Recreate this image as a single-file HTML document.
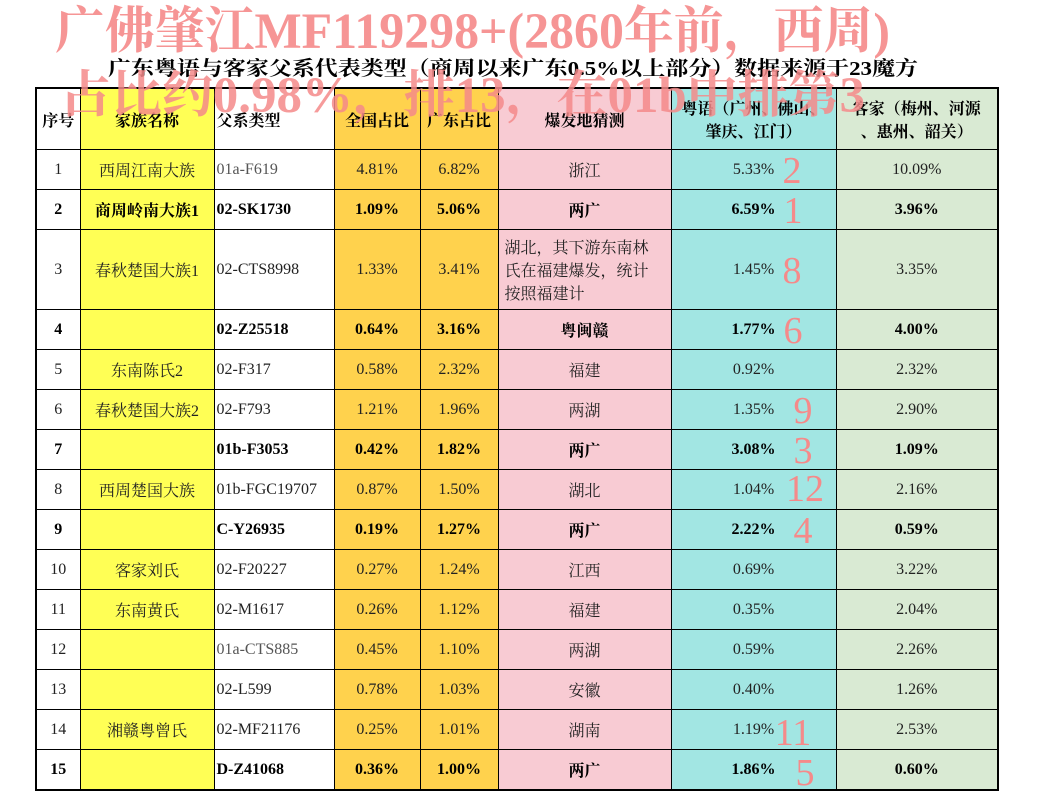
<!DOCTYPE html>
<html><head><meta charset="utf-8"><style>
body{margin:0;width:1041px;height:812px;background:#fff;position:relative;overflow:hidden;font-family:"Liberation Serif","Noto Serif CJK SC",serif}
table{position:absolute;left:35px;top:87px;border-collapse:collapse;table-layout:fixed;border:2px solid #000}
td{border:1px solid #000;font-size:16px;text-align:center;padding:0;height:39px;color:#222}
tr.h td{height:60px;font-size:16px;vertical-align:middle;font-weight:bold;color:#000}
.y{background:#ffff55}.o{background:#ffd24d}.p{background:#f8cbd3}.c{background:#a2e6e3}.g{background:#d9ead3}
td.l{text-align:left;padding-left:2px}
td.gy{color:#555}
tr.b td{font-weight:bold;color:#000}
.r{position:absolute;font-family:"Liberation Serif",serif;font-size:38px;color:#f58a8a;transform:translateX(-50%)}
svg{position:absolute;left:0;top:0}
</style></head><body>
<table>
<colgroup><col style="width:44px"><col style="width:134px"><col style="width:120px"><col style="width:86px"><col style="width:78px"><col style="width:173px"><col style="width:165px"><col style="width:162px"></colgroup>
<tr class="h"><td>序号</td><td class="y">家族名称</td><td class="l">父系类型</td><td class="o">全国占比</td><td class="o">广东占比</td><td class="p">爆发地猜测</td><td class="c">粤语（广州、佛山、<br>肇庆、江门）</td><td class="g">客家（梅州、河源<br>、惠州、韶关）</td></tr>
<tr><td>1</td><td class="y">西周江南大族</td><td class="l gy">01a-F619</td><td class="o">4.81%</td><td class="o">6.82%</td><td class="p">浙江</td><td class="c">5.33%</td><td class="g">10.09%</td></tr>
<tr class="b"><td>2</td><td class="y">商周岭南大族1</td><td class="l">02-SK1730</td><td class="o">1.09%</td><td class="o">5.06%</td><td class="p">两广</td><td class="c">6.59%</td><td class="g">3.96%</td></tr>
<tr><td style="height:79px">3</td><td class="y">春秋楚国大族1</td><td class="l">02-CTS8998</td><td class="o">1.33%</td><td class="o">3.41%</td><td class="p" style="text-align:left;padding-left:6px">湖北，其下游东南林<br>氏在福建爆发，统计<br>按照福建计</td><td class="c">1.45%</td><td class="g">3.35%</td></tr>
<tr class="b"><td>4</td><td class="y"></td><td class="l">02-Z25518</td><td class="o">0.64%</td><td class="o">3.16%</td><td class="p">粤闽赣</td><td class="c">1.77%</td><td class="g">4.00%</td></tr>
<tr><td>5</td><td class="y">东南陈氏2</td><td class="l">02-F317</td><td class="o">0.58%</td><td class="o">2.32%</td><td class="p">福建</td><td class="c">0.92%</td><td class="g">2.32%</td></tr>
<tr><td>6</td><td class="y">春秋楚国大族2</td><td class="l">02-F793</td><td class="o">1.21%</td><td class="o">1.96%</td><td class="p">两湖</td><td class="c">1.35%</td><td class="g">2.90%</td></tr>
<tr class="b"><td>7</td><td class="y"></td><td class="l">01b-F3053</td><td class="o">0.42%</td><td class="o">1.82%</td><td class="p">两广</td><td class="c">3.08%</td><td class="g">1.09%</td></tr>
<tr><td>8</td><td class="y">西周楚国大族</td><td class="l">01b-FGC19707</td><td class="o">0.87%</td><td class="o">1.50%</td><td class="p">湖北</td><td class="c">1.04%</td><td class="g">2.16%</td></tr>
<tr class="b"><td>9</td><td class="y"></td><td class="l">C-Y26935</td><td class="o">0.19%</td><td class="o">1.27%</td><td class="p">两广</td><td class="c">2.22%</td><td class="g">0.59%</td></tr>
<tr><td>10</td><td class="y">客家刘氏</td><td class="l">02-F20227</td><td class="o">0.27%</td><td class="o">1.24%</td><td class="p">江西</td><td class="c">0.69%</td><td class="g">3.22%</td></tr>
<tr><td>11</td><td class="y">东南黄氏</td><td class="l">02-M1617</td><td class="o">0.26%</td><td class="o">1.12%</td><td class="p">福建</td><td class="c">0.35%</td><td class="g">2.04%</td></tr>
<tr><td>12</td><td class="y"></td><td class="l gy">01a-CTS885</td><td class="o">0.45%</td><td class="o">1.10%</td><td class="p">两湖</td><td class="c">0.59%</td><td class="g">2.26%</td></tr>
<tr><td>13</td><td class="y"></td><td class="l">02-L599</td><td class="o">0.78%</td><td class="o">1.03%</td><td class="p">安徽</td><td class="c">0.40%</td><td class="g">1.26%</td></tr>
<tr><td>14</td><td class="y">湘赣粤曾氏</td><td class="l">02-MF21176</td><td class="o">0.25%</td><td class="o">1.01%</td><td class="p">湖南</td><td class="c">1.19%</td><td class="g">2.53%</td></tr>
<tr class="b"><td>15</td><td class="y"></td><td class="l">D-Z41068</td><td class="o">0.36%</td><td class="o">1.00%</td><td class="p">两广</td><td class="c">1.86%</td><td class="g">0.60%</td></tr>
</table>
<span class="r" style="left:792px;top:149px">2</span>
<span class="r" style="left:793px;top:189px">1</span>
<span class="r" style="left:792px;top:249px">8</span>
<span class="r" style="left:793px;top:309px">6</span>
<span class="r" style="left:803px;top:389px">9</span>
<span class="r" style="left:803px;top:429px">3</span>
<span class="r" style="left:805px;top:467px">12</span>
<span class="r" style="left:803px;top:509px">4</span>
<span class="r" style="left:793px;top:711px">11</span>
<span class="r" style="left:805px;top:751px">5</span>
<svg width="1041" height="812">
<text x="108" y="75" font-size="20" font-weight="bold" fill="#000" textLength="810" lengthAdjust="spacingAndGlyphs" font-family="Liberation Serif,Noto Serif CJK SC,serif">广东粤语与客家父系代表类型（商周以来广东0.5%以上部分）数据来源于23魔方</text>
<g transform="translate(0,48) scale(1,1.2)"><text x="55" y="0" font-size="42" font-weight="bold" fill="#f58a8a" fill-opacity="0.9" textLength="835" lengthAdjust="spacingAndGlyphs" font-family="Liberation Serif,Noto Serif CJK SC,serif">广佛肇江MF119298+(2860年前，西周)</text></g>
<g transform="translate(0,112) scale(1,1.2)"><text x="60" y="0" font-size="42" font-weight="bold" fill="#f58a8a" fill-opacity="0.85" textLength="805" lengthAdjust="spacingAndGlyphs" font-family="Liberation Serif,Noto Serif CJK SC,serif">占比约0.98%，排13，在01b中排第3</text></g>
</svg>
</body></html>
